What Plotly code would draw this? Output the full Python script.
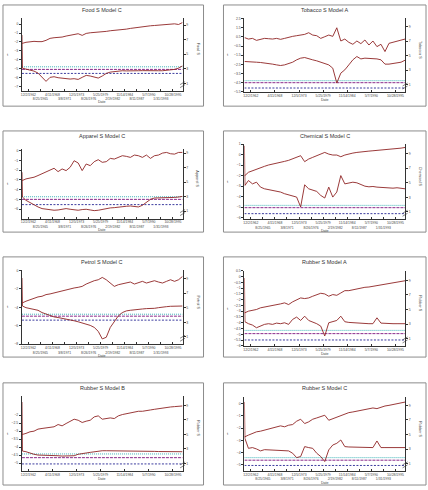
import plotly.graph_objects as go

W, H = 428, 490

# ---------------- data ----------------
X_INDEX = [0, 0.3, 2.5, 5, 7.5, 10, 12.5, 15, 17.5, 20, 22.5, 25, 27.5, 30, 32.5, 35, 37.5, 40,
           42.5, 45, 47.5, 50, 52.5, 55, 57.5, 60, 62.5, 65, 67.5, 70, 72.5, 75, 77.5, 80,
           82.5, 85, 87.5, 90, 92.5, 95, 97.5, 100]

DATE_POS = [4, 11.5, 19, 26.5, 34, 41.5, 49, 56.5, 64, 71.5, 79, 86.5, 94]
DATE_LABELS = ["12/2/1962", "8/25/1965", "4/11/1968", "3/8/1971", "12/5/1973", "8/26/1976",
               "5/25/1979", "2/19/1982", "11/14/1984", "8/11/1987", "5/7/1990", "1/31/1993",
               "10/28/1995"]

FOOD_S = [6.5, 6.5, 6.64, 6.73, 6.77, 6.73, 6.73, 6.91, 7.18, 7.27, 7.27, 7.36, 7.5, 7.64, 7.77, 7.82,
          7.59, 7.86, 7.95, 8.0, 7.95, 8.0, 8.14, 8.23, 8.27, 8.36, 8.36, 8.45, 8.55, 8.64, 8.73,
          8.82, 8.86, 8.91, 8.95, 9.0, 9.0, 9.05, 9.14, 9.18, 9.09, 9.36]
FOOD_T = [-1.22, -4.93, -5.04, -5.15, -5.26, -5.48, -5.96, -6.41, -5.96, -5.89, -6.0, -6.07, -6.15,
          -6.15, -6.11, -6.19, -5.96, -5.74, -5.81, -5.96, -6.04, -5.81, -5.52, -5.37, -5.30, -5.26,
          -5.22, -5.24, -5.21, -5.23, -5.22, -5.21, -5.23, -5.22, -5.21, -5.22, -5.22, -5.19, -5.15,
          -5.07, -4.93, -4.67]
FOOD_CV = [-4.78, -5.07, -5.52]

TOBACCO_S = [7.45, 7.45, 7.27, 7.36, 7.09, 7.27, 7.36, 7.32, 7.27, 7.36, 7.23, 7.36, 7.55, 7.64, 7.73,
             7.82, 7.91, 8.14, 7.82, 7.73, 7.36, 7.59, 7.82, 7.64, 8.82, 7.0, 7.27, 6.82, 6.55, 7.0,
             6.64, 7.14, 6.45, 7.0, 6.23, 6.55, 5.55, 6.68, 6.82, 7.0, 7.14, 7.27]
TOBACCO_T = [-2.18, -2.18, -2.18, -2.26, -2.26, -2.29, -2.33, -2.40, -2.47, -2.55, -2.62, -2.55, -2.40,
             -2.26, -2.0, -1.82, -1.75, -1.90, -2.0, -2.11, -2.26, -2.40, -2.55, -2.91, -4.53, -3.45,
             -3.09, -2.55, -2.0, -1.64, -1.90, -1.82, -1.82, -1.90, -1.90, -2.0, -2.47, -2.47, -2.40,
             -2.40, -2.26, -2.04]
TOBACCO_CV = [-4.27, -4.49, -5.07]

APPAREL_S = [5.23, 5.23, 5.45, 5.55, 5.68, 5.91, 6.14, 6.36, 6.59, 6.91, 6.45, 6.82, 6.59, 7.05, 7.95,
             7.64, 6.59, 7.5, 7.27, 7.82, 8.09, 7.73, 7.82, 8.27, 8.18, 8.41, 8.64, 8.55, 8.41, 8.73,
             8.64, 8.41, 8.73, 8.27, 8.64, 8.73, 9.0, 9.09, 8.91, 8.86, 9.09, 9.09]
APPAREL_T = [-2.21, -4.76, -5.10, -5.34, -5.54, -5.78, -5.95, -6.02, -6.09, -6.12, -6.09, -6.02, -5.95,
             -6.02, -6.09, -6.12, -6.05, -6.02, -6.09, -6.16, -6.12, -6.02, -5.95, -5.88, -5.85, -5.78,
             -5.75, -5.71, -5.68, -5.71, -5.78, -5.61, -5.27, -5.0, -4.86, -4.86, -4.86, -4.83, -4.83,
             -4.80, -4.76, -4.69]
APPAREL_CV = [-4.73, -5.0, -5.54]

CHEMICAL_S = [6.0, 6.0, 6.45, 6.68, 6.91, 7.09, 7.27, 7.45, 7.55, 7.73, 7.82, 7.95, 8.09, 8.27, 8.45,
              8.73, 7.91, 8.27, 8.5, 8.73, 8.95, 9.18, 8.95, 8.82, 8.82, 8.59, 8.82, 9.0, 9.09, 9.18,
              9.27, 9.36, 9.36, 9.41, 9.45, 9.55, 9.55, 9.64, 9.64, 9.73, 9.77, 9.86]
CHEMICAL_T = [0.85, -2.93, -2.46, -2.78, -2.62, -3.09, -3.25, -3.31, -3.41, -3.50, -3.56, -3.72, -3.82,
              -3.94, -4.04, -4.98, -2.87, -3.25, -3.41, -3.50, -3.88, -4.13, -3.09, -4.04, -3.56, -1.99,
              -2.78, -2.68, -2.62, -2.68, -2.87, -3.0, -3.06, -3.03, -3.09, -3.12, -3.09, -3.12, -3.19,
              -3.15, -3.19, -3.25]
CHEMICAL_CV = [-4.83, -5.05, -5.62]

PETROL_S = [5.68, 5.68, 5.91, 6.14, 6.36, 6.5, 6.59, 6.82, 6.91, 7.05, 7.27, 7.36, 7.5, 7.64, 7.73,
            7.82, 7.95, 8.27, 8.55, 8.73, 8.86, 9.18, 8.86, 8.41, 7.95, 8.18, 8.27, 8.41, 8.55, 8.27,
            8.41, 8.64, 8.41, 8.55, 8.73, 8.55, 8.41, 8.64, 8.86, 8.64, 8.86, 9.32]
PETROL_T = [-0.82, -3.86, -4.04, -4.11, -4.21, -4.32, -4.57, -4.75, -4.93, -5.04, -5.11, -5.18, -5.29,
            -5.39, -5.46, -5.57, -5.68, -5.82, -5.96, -6.18, -6.61, -7.43, -7.25, -6.18, -5.54, -4.93,
            -4.57, -4.39, -4.32, -4.25, -4.21, -4.18, -4.14, -4.14, -4.11, -4.04, -3.96, -3.93, -3.89,
            -3.89, -3.89, -3.86]
PETROL_CV = [-4.75, -4.96, -5.39]

RUBBER_A_S = [4.55, 4.55, 4.77, 4.86, 5.0, 5.23, 5.32, 5.45, 5.59, 5.68, 5.77, 5.91, 5.68, 6.05, 6.36,
              6.59, 6.5, 6.59, 6.82, 7.05, 7.23, 7.14, 6.82, 7.05, 6.95, 7.27, 7.59, 7.59, 7.73, 7.86,
              7.95, 8.05, 8.09, 8.18, 8.32, 8.41, 8.5, 8.59, 8.68, 8.77, 8.86, 8.95]
RUBBER_A_T = [-0.13, -3.91, -4.08, -4.20, -4.43, -4.26, -4.14, -4.08, -4.14, -4.03, -4.08, -4.0, -4.14,
              -3.71, -3.51, -3.80, -3.43, -3.80, -3.91, -4.08, -4.29, -5.14, -4.0, -3.91, -3.80, -3.43,
              -3.91, -3.97, -4.0, -4.03, -4.03, -4.06, -4.08, -4.08, -3.57, -4.03, -4.06, -4.08, -4.08,
              -4.08, -4.08, -4.08]
RUBBER_A_CV = [-4.66, -4.94, -5.49]

RUBBER_B_S = [5.0, 5.0, 5.14, 5.36, 5.45, 5.73, 5.82, 5.91, 6.0, 6.05, 6.36, 6.18, 6.5, 6.82, 7.09,
              6.95, 6.64, 6.82, 6.95, 7.41, 7.55, 7.09, 7.18, 7.27, 7.18, 7.55, 7.73, 7.86, 8.0, 8.09,
              8.18, 8.18, 8.32, 8.36, 8.45, 8.55, 8.64, 8.68, 8.77, 8.82, 8.91, 8.91]
RUBBER_B_T = [-1.19, -4.24, -4.28, -4.38, -4.44, -4.49, -4.49, -4.51, -4.53, -4.53, -4.53, -4.55, -4.55,
              -4.55, -4.53, -4.44, -4.38, -4.36, -4.32, -4.28, -4.24, -4.22, -4.22, -4.22, -4.23, -4.23,
              -4.24, -4.24, -4.24, -4.25, -4.25, -4.25, -4.26, -4.26, -4.26, -4.27, -4.27, -4.27, -4.27,
              -4.28, -4.28, -4.28]
RUBBER_B_CV = [-4.42, -4.65, -5.04]

RUBBER_C_S = [4.68, 4.68, 4.91, 5.14, 5.36, 5.45, 5.59, 5.73, 5.91, 6.05, 6.18, 6.05, 6.27, 6.36, 6.82,
              7.09, 6.5, 6.73, 7.09, 7.27, 7.41, 7.64, 6.95, 7.18, 7.41, 7.64, 7.86, 8.0, 8.09, 8.18,
              8.32, 8.36, 8.55, 8.64, 8.55, 8.77, 8.91, 9.0, 9.09, 9.18, 9.27, 9.45]
RUBBER_C_T = [0.14, -2.84, -3.65, -3.59, -3.70, -3.86, -3.76, -3.78, -3.78, -3.81, -3.81, -3.81, -3.86,
              -4.05, -4.41, -4.32, -3.51, -3.59, -3.65, -4.05, -4.32, -4.73, -3.78, -3.38, -3.24, -2.97,
              -3.51, -3.54, -3.54, -3.57, -3.57, -3.59, -3.59, -3.59, -3.05, -3.59, -3.59, -3.59, -3.59,
              -3.59, -3.59, -3.59]
RUBBER_C_CV = [-4.41, -4.62, -5.05]

# ---------------- layout / style ----------------
FONT = "Liberation Sans, Arial, sans-serif"
LINE_RED = "#8e2424"
CV_STYLES = [("#3fb3b8", "1px,1px"), ("#8a2a8a", "3px,1px"), ("#3b3b9e", "2px,1.5px")]
AX = "#333333"

COLS = {0: dict(box=(2, 203), plot=(21, 182)), 1: dict(box=(223, 426), plot=(244, 405))}
ROWS = {0: (3, 105), 1: (130, 232), 2: (257, 358), 3: (384, 487)}

panels = [
    dict(title="Food S Model C", rt="Food S", s=FOOD_S, t=FOOD_T, cv=FOOD_CV, col=0, row=0,
         py=(16, 89.3), lr=(-7.44, 0.70), lt=[0, -1, -2, -3, -4, -5, -6, -7], rr=(0, 10.0), two=True),
    dict(title="Tobacco S Model A", rt="Tobacco S", s=TOBACCO_S, t=TOBACCO_T, cv=TOBACCO_CV, col=1, row=0,
         py=(16, 90.7), lr=(-5.5, 2.57), lt=[2.5, 1.5, 0.5, -0.5, -1.5, -2.5, -3.5, -4.5, -5.5],
         rr=(0, 10.18), two=False),
    dict(title="Apparel S Model C", rt="Apparel S", s=APPAREL_S, t=APPAREL_T, cv=APPAREL_CV, col=0, row=1,
         py=(148.3, 218.3), lr=(-6.97, 0.17), lt=[0, -1, -2, -3, -4, -5, -6], rr=(0, 9.55), two=True),
    dict(title="Chemical S Model C", rt="Chemical S", s=CHEMICAL_S, t=CHEMICAL_T, cv=CHEMICAL_CV, col=1, row=1,
         py=(143.3, 219), lr=(-6.15, 1.01), lt=[1, 0, -1, -2, -3, -4, -5, -6], rr=(0, 10.32), two=True),
    dict(title="Petrol S Model C", rt="Petrol S", s=PETROL_S, t=PETROL_T, cv=PETROL_CV, col=0, row=2,
         py=(270, 345), lr=(-8.0, 0.07), lt=[0, -2, -4, -6, -8], rr=(0, 10.23), two=True),
    dict(title="Rubber S Model A", rt="Rubber S", s=RUBBER_A_S, t=RUBBER_A_T, cv=RUBBER_A_CV, col=1, row=2,
         py=(271, 346.7), lr=(-6.0, 0.5),
         lt=[0.5, 0, -0.5, -1, -1.5, -2, -2.5, -3, -3.5, -4, -4.5, -5, -5.5, -6], rr=(0, 10.32), two=False),
    dict(title="Rubber S Model B", rt="Rubber S", s=RUBBER_B_S, t=RUBBER_B_T, cv=RUBBER_B_CV, col=0, row=3,
         py=(397.3, 472.7), lr=(-5.47, -0.82), lt=[-2, -2.5, -3, -3.5, -4, -4.5, -5], rr=(0, 10.27), two=False),
    dict(title="Rubber S Model C", rt="Rubber S", s=RUBBER_C_S, t=RUBBER_C_T, cv=RUBBER_C_CV, col=1, row=3,
         py=(398.3, 472.7), lr=(-5.49, 0.54), lt=[0, -1, -2, -3, -4, -5], rr=(0, 10.14), two=True),
]


def fx(x):
    return x / W


def fy(y):
    return 1 - y / H


fig = go.Figure()
layout = dict(width=W, height=H, margin=dict(l=0, r=0, t=0, b=0), paper_bgcolor="white",
              plot_bgcolor="white", showlegend=False, font=dict(family=FONT, color=AX, size=4))
shapes, annotations = [], []

for i, p in enumerate(panels, start=1):
    c = COLS[p["col"]]
    bx0, bx1 = c["box"]
    px0, px1 = c["plot"]
    by0, by1 = ROWS[p["row"]]
    py0, py1 = p["py"]
    xa = "x" if i == 1 else f"x{i}"
    yl = "y" if i == 1 else f"y{i}"
    yr = f"y{i + 8}"
    xkey = "xaxis" if i == 1 else f"xaxis{i}"
    ylkey = "yaxis" if i == 1 else f"yaxis{i}"
    yrkey = f"yaxis{i + 8}"

    # series on right axis
    fig.add_trace(go.Scatter(x=X_INDEX, y=p["s"], mode="lines", xaxis=xa, yaxis=yr,
                             line=dict(color=LINE_RED, width=0.9), hoverinfo="skip"))
    # critical values on left axis
    for val, (col, dash) in zip(p["cv"], CV_STYLES):
        fig.add_trace(go.Scatter(x=[X_INDEX[0], X_INDEX[-1]], y=[val, val], mode="lines",
                                 xaxis=xa, yaxis=yl, line=dict(color=col, width=1, dash=dash),
                                 hoverinfo="skip"))
    # t statistic on left axis
    fig.add_trace(go.Scatter(x=X_INDEX, y=p["t"], mode="lines", xaxis=xa, yaxis=yl,
                             line=dict(color=LINE_RED, width=0.9), hoverinfo="skip"))

    if p["two"]:
        tv = DATE_POS
        tt = [lab if k % 2 == 0 else "<br>" + lab for k, lab in enumerate(DATE_LABELS)]
    else:
        tv = DATE_POS[::2]
        tt = DATE_LABELS[::2]

    layout[xkey] = dict(domain=[fx(px0), fx(px1)], range=[0, 100], anchor=yl, showgrid=False,
                        zeroline=False, showline=True, linecolor=AX, linewidth=0.8,
                        ticks="inside", ticklen=2, tickwidth=0.6, tickcolor=AX,
                        tickvals=tv, ticktext=tt, tickfont=dict(size=3.4, color="#444"),
                        tickangle=0)
    layout[ylkey] = dict(domain=[fy(py1), fy(py0)], range=list(p["lr"]), anchor=xa, side="left",
                         showgrid=False, zeroline=False, showline=True, linecolor=AX, linewidth=1,
                         ticks="outside", ticklen=2, tickwidth=0.6, tickcolor=AX,
                         tickvals=p["lt"], tickfont=dict(size=3.4, color="#444"))
    layout[yrkey] = dict(domain=[fy(py1), fy(py0)], range=list(p["rr"]), anchor=xa, side="right",
                         overlaying=yl, showgrid=False, zeroline=False, showline=True, linecolor=AX,
                         linewidth=1, ticks="outside", ticklen=2, tickwidth=0.6, tickcolor=AX,
                         tickvals=[1, 3, 5, 7, 9], tickfont=dict(size=3.4, color="#444"))

    # frame box
    shapes.append(dict(type="rect", xref="paper", yref="paper", x0=fx(bx0), x1=fx(bx1),
                       y0=fy(by1), y1=fy(by0), line=dict(color="#8c8c8c", width=1)))
    # axis break marks on right axis
    for dy in (0, 3):
        shapes.append(dict(type="line", xref="paper", yref="paper",
                           x0=fx(px1 - 2.5), y0=fy(py1 - 6 + dy), x1=fx(px1 + 2.5), y1=fy(py1 - 9 + dy),
                           line=dict(color=AX, width=0.6)))
    cx = (px0 + px1) / 2
    cy = (py0 + py1) / 2
    annotations.append(dict(text=p["title"], xref="paper", yref="paper", x=fx(cx), y=fy(by0 + 5),
                            showarrow=False, font=dict(size=5.5, color="#333"), xanchor="center",
                            yanchor="middle"))
    annotations.append(dict(text="Date", xref="paper", yref="paper", x=fx(cx),
                            y=fy(py1 + (12 if p["two"] else 8.5)), showarrow=False,
                            font=dict(size=3.6, color="#444"), xanchor="center", yanchor="middle"))
    annotations.append(dict(text="t", xref="paper", yref="paper", x=fx(bx0 + 5), y=fy(cy),
                            showarrow=False, font=dict(size=4, color="#444"), xanchor="center",
                            yanchor="middle"))
    annotations.append(dict(text=p["rt"], xref="paper", yref="paper", x=fx(bx1 - 6), y=fy(cy - 5),
                            showarrow=False, textangle=90, font=dict(size=3.8, color="#444"),
                            xanchor="center", yanchor="middle"))

layout["shapes"] = shapes
layout["annotations"] = annotations
fig.update_layout(**layout)
fig.write_html("out.html")
